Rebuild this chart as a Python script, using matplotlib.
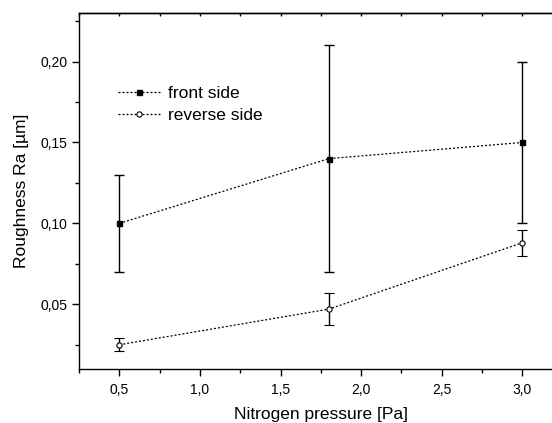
import matplotlib
matplotlib.use("Agg")
import matplotlib.pyplot as plt
from matplotlib.ticker import MultipleLocator, FuncFormatter
from matplotlib.lines import Line2D

plt.rcParams['font.family'] = ['Liberation Sans', 'DejaVu Sans']

pressure = [0.5, 1.8, 3.0]
front = [0.100, 0.140, 0.150]
front_err = [0.030, 0.070, 0.050]
reverse = [0.025, 0.047, 0.088]
reverse_err = [0.004, 0.010, 0.008]

W, H = 552, 423
fig = plt.figure(figsize=(W / 100, H / 100), dpi=100)
left, right, top, bottom = 79, 562.6, 13, 369
ax = fig.add_axes([left / W, 1 - bottom / H, (right - left) / W, (bottom - top) / H])

ls = (0, (1.6, 1.6))
sq = dict(marker='s', ms=3.6, mfc='black', mec='black')
ci = dict(marker='o', ms=3.8, mfc='white', mec='black', mew=0.8)
ax.errorbar(pressure, front, yerr=front_err, color='black', lw=0.9, ls=ls,
            ecolor='black', elinewidth=1.0, capsize=3.5, capthick=1.0, **sq)
ax.errorbar(pressure, reverse, yerr=reverse_err, color='black', lw=0.9, ls=ls,
            ecolor='black', elinewidth=1.0, capsize=3.5, capthick=1.0, **ci)

ax.set_xlim(0.25, 3.25)
ax.set_ylim(0.01, 0.23)

ax.xaxis.set_major_locator(MultipleLocator(0.5))
ax.xaxis.set_minor_locator(MultipleLocator(0.25))
ax.yaxis.set_major_locator(MultipleLocator(0.05))
ax.yaxis.set_minor_locator(MultipleLocator(0.025))
ax.xaxis.set_major_formatter(FuncFormatter(lambda v, p: f"{v:.1f}".replace('.', ',')))
ax.yaxis.set_major_formatter(FuncFormatter(lambda v, p: f"{v:.2f}".replace('.', ',')))

ax.tick_params(axis='both', which='major', direction='out', length=5, width=1, labelsize=10)
ax.tick_params(axis='both', which='minor', direction='out', length=3, width=1)
ax.tick_params(axis='x', which='major', pad=5)

sec = ax.secondary_xaxis('top')
sec.xaxis.set_major_locator(MultipleLocator(0.25))
sec.tick_params(axis='x', which='both', direction='in', length=2, width=1, labeltop=False)
sec.spines['top'].set_linewidth(1.0)

ax.spines['right'].set_visible(False)
for s in ax.spines.values():
    s.set_linewidth(1.0)

ax.set_xlabel('Nitrogen pressure [Pa]', fontsize=12.5, labelpad=7.5)
ax.set_ylabel('Roughness Ra [µm]', fontsize=12.5, labelpad=8)

handles = [Line2D([], [], color='black', lw=0.9, ls=ls, **sq),
           Line2D([], [], color='black', lw=0.9, ls=ls, **ci)]
ax.legend(handles, ['front side', 'reverse side'], loc='upper left',
          bbox_to_anchor=(0.08, 0.795), frameon=False,
          fontsize=12.5, handlelength=2.5, handletextpad=0.4,
          labelspacing=0.4, borderpad=0, borderaxespad=0)

fig.savefig('out.png', dpi=100)
